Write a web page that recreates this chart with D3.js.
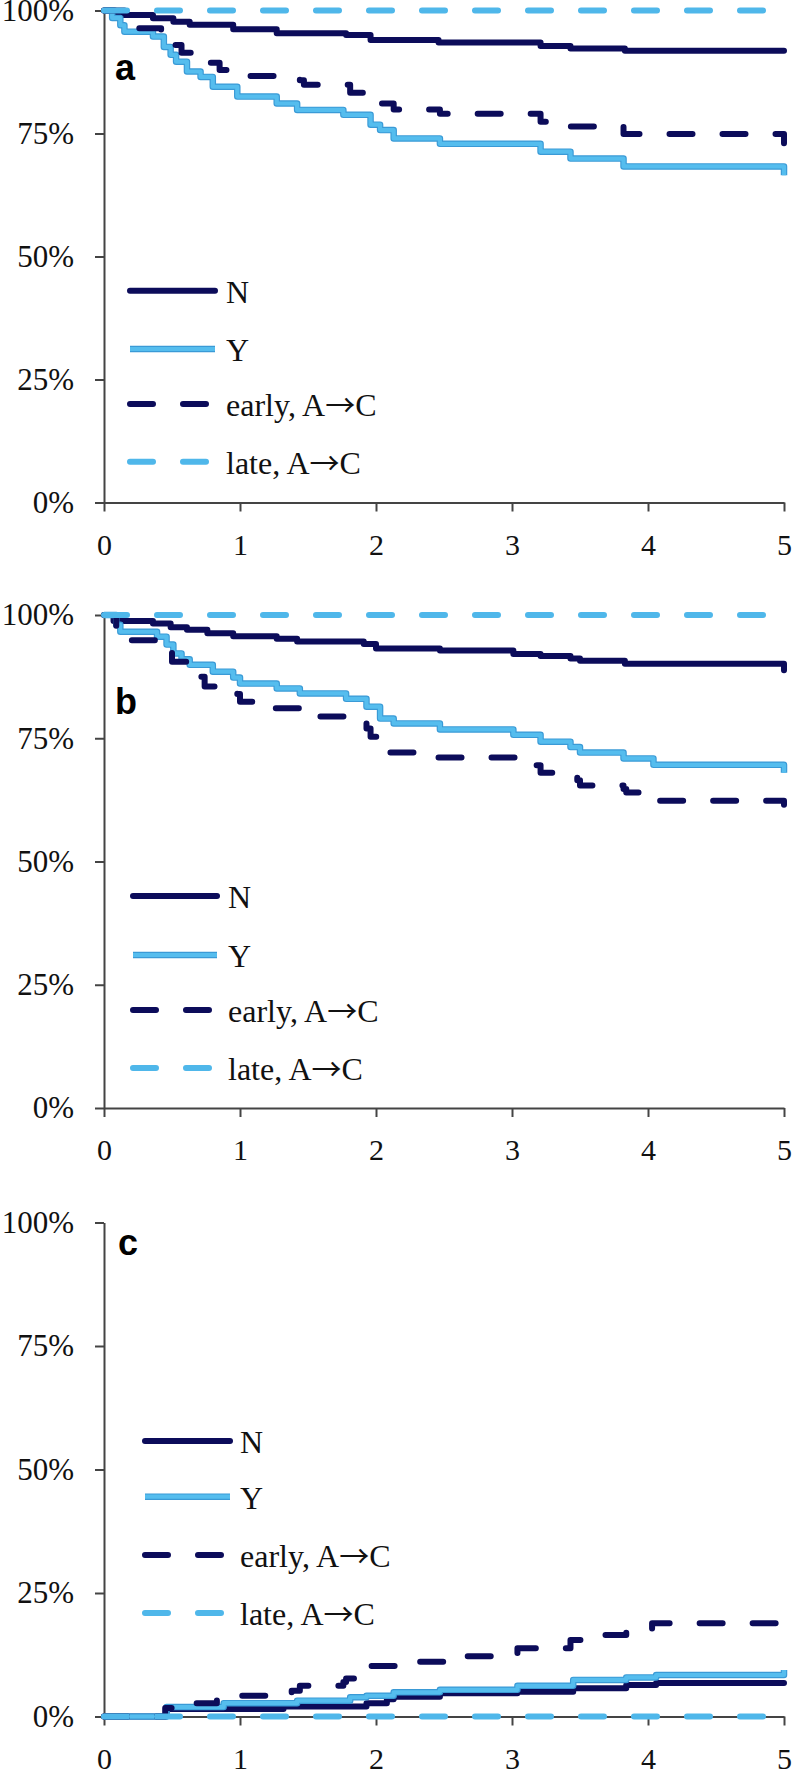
<!DOCTYPE html>
<html><head><meta charset="utf-8">
<script src="https://cdn.jsdelivr.net/npm/d3@7"></script>
<style>body{margin:0;background:#fff}</style>
</head><body>
<svg id="chart" width="795" height="1772"></svg>
<script>
// ---------- data ----------
const xTicks = [0, 1, 2, 3, 4, 5];
const xTickLabels = ["0", "1", "2", "3", "4", "5"];
const yTicks = [0, 25, 50, 75, 100];
const yTickLabels = ["0%", "25%", "50%", "75%", "100%"];
const seriesNames = ["N", "Y", "early, A\u2192C", "late, A\u2192C"];
const panelLabels = ["a", "b", "c"];

// panel a
const aN = [[0,100],[0.08,99.1],[0.36,98.4],[0.51,97.7],[0.63,97.1],[0.95,96.2],[1.27,95.4],[1.78,95.0],[1.96,94.0],[2.46,93.5],[3.21,92.8],[3.43,92.3],[3.83,91.8],[5,91.8]];
const aY = [[0,100],[0.06,98.5],[0.12,97],[0.15,95.7],[0.36,94.7],[0.44,92.6],[0.49,91.0],[0.53,89.6],[0.61,87.6],[0.71,86.5],[0.80,84.5],[0.98,82.5],[1.27,81.1],[1.42,79.8],[1.76,78.8],[1.96,76.8],[2.03,75.7],[2.13,74.0],[2.47,72.9],[3.21,71.3],[3.43,69.9],[3.82,68.3],[5,68.3],[5,66.5]];
const aEarly = [[0,100],[0.15,96.4],[0.42,95.4],[0.49,93.0],[0.57,91.4],[0.75,89.4],[0.85,87.9],[0.95,86.7],[1.44,85.8],[1.47,84.9],[1.81,83.3],[1.98,81.1],[2.13,79.9],[2.47,79.0],[3.21,77.4],[3.34,76.4],[3.82,74.9],[5,74.9],[5,73.0]];
const aLate = [[0,100],[5,100]];

// panel b
const bN = [[0,100],[0.07,98.8],[0.36,98.3],[0.49,97.5],[0.61,97.0],[0.76,96.3],[0.95,95.7],[1.27,95.2],[1.42,94.6],[1.91,94.1],[2.0,93.2],[2.47,92.8],[3.01,92.1],[3.21,91.7],[3.43,91.2],[3.5,90.7],[3.83,90.1],[5,90.1],[5,88.8]];
const bY = [[0,100],[0.09,98],[0.12,96.6],[0.39,95.6],[0.46,94.0],[0.51,92.2],[0.57,91.0],[0.63,89.9],[0.80,88.5],[0.95,87.3],[1.0,86.1],[1.27,85.1],[1.44,84.1],[1.78,83.0],[1.93,81.4],[2.03,79.0],[2.13,78.0],[2.47,76.8],[3.01,75.7],[3.21,74.3],[3.43,73.2],[3.5,72.1],[3.82,70.9],[4.04,69.6],[5,69.6],[5,68.0]];
const bEarly = [[0,100],[0.09,97.5],[0.15,94.9],[0.46,93.0],[0.50,90.5],[0.69,87.5],[0.74,85.5],[0.98,84.0],[1.0,82.4],[1.2,81.1],[1.5,79.4],[1.93,77.0],[1.96,75.3],[2.05,72.1],[2.37,71.1],[3.18,69.5],[3.21,68.0],[3.48,66.5],[3.5,65.4],[3.82,64.7],[3.84,64.0],[4.03,62.3],[5,62.3],[5,61.5]];
const bLate = [[0,100],[5,100]];

// panel c
const cN = [[0,0],[0.46,1.5],[1.32,2.0],[1.93,2.7],[2.08,3.5],[2.13,4.0],[2.47,4.7],[3.04,5.0],[3.45,5.7],[3.84,6.4],[4.06,6.8],[5,6.8]];
const cY = [[0,0],[0.46,1.9],[0.88,2.7],[1.42,3.2],[1.81,3.9],[1.93,4.2],[2.13,4.9],[2.47,5.4],[3.04,6.2],[3.45,7.4],[3.84,7.9],[4.06,8.4],[5,8.4],[5,9.4]];
const cEarly = [[0,0],[0.45,1.7],[0.62,2.7],[0.83,3.3],[0.93,4.2],[1.38,5.2],[1.44,6.2],[1.76,7.0],[1.78,7.7],[1.9,8.9],[1.96,10.2],[2.22,11.1],[2.56,12.2],[3.04,13.8],[3.43,15.5],[3.6,16.5],[3.84,17.5],[4.03,18.9],[5,18.9]];
const cLate = [[0,0],[5,0]];

// ---------- layout ----------
const NAVY = "#0c0c5a";
const LIGHT = "#55bdee";
const LIGHT_EDGE = "#3a9ad6";
const SERIF = "'Liberation Serif','Times New Roman',serif";

const panels = [
  {data:[aN,aY,aEarly,aLate], top:10.5, bottom:502.5, leg:{x1:127,x2:218,ys:[290.7,349,404,461.7],tx:226}, lab:{x:115,y:80}},
  {data:[bN,bY,bEarly,bLate], top:615, bottom:1108, leg:{x1:130,x2:220,ys:[896,955,1010,1068],tx:228}, lab:{x:115,y:714}},
  {data:[cN,cY,cEarly,cLate], top:1222.5, bottom:1716.5, leg:{x1:142,x2:233,ys:[1441,1496.7,1555,1613],tx:240}, lab:{x:118,y:1255}}
];

const svg = d3.select("#chart");
svg.append("rect").attr("width",795).attr("height",1772).attr("fill","#fff");
const x = d3.scaleLinear().domain([0,5]).range([104,784]);

function drawSeries(g, path, k){
  if (k === 0) {
    g.append("path").attr("d", path).attr("fill","none").attr("stroke",NAVY).attr("stroke-width",6).attr("stroke-linejoin","round").attr("stroke-linecap","round");
  } else if (k === 1) {
    g.append("path").attr("d", path).attr("fill","none").attr("stroke",LIGHT_EDGE).attr("stroke-width",6.5).attr("stroke-linejoin","round");
    g.append("path").attr("d", path).attr("fill","none").attr("stroke",LIGHT).attr("stroke-width",4.2).attr("stroke-linejoin","round");
  } else if (k === 2) {
    g.append("path").attr("d", path).attr("fill","none").attr("stroke",NAVY).attr("stroke-width",6).attr("stroke-linejoin","round").attr("stroke-linecap","round").attr("stroke-dasharray","23 30");
  } else {
    g.append("path").attr("d", path).attr("fill","none").attr("stroke","#4fb7ea").attr("stroke-width",6).attr("stroke-linejoin","round").attr("stroke-linecap","round").attr("stroke-dasharray","23 30");
  }
}

panels.forEach((p, pi) => {
  const y = d3.scaleLinear().domain([0,100]).range([p.bottom, p.top]);
  const g = svg.append("g");

  const ya = g.append("g").attr("transform",`translate(${x(0)},0)`)
    .call(d3.axisLeft(y).tickValues(yTicks).tickFormat(d => yTickLabels[yTicks.indexOf(d)]).tickSize(9).tickSizeOuter(0).tickPadding(21));
  const xa = g.append("g").attr("transform",`translate(0,${y(0)})`)
    .call(d3.axisBottom(x).tickValues(xTicks).tickFormat(d => xTickLabels[xTicks.indexOf(d)]).tickSize(9).tickSizeOuter(0).tickPadding(22));
  [ya, xa].forEach(a => {
    a.select(".domain").attr("stroke","#444").attr("stroke-width",2);
    a.selectAll(".tick line").attr("stroke","#444").attr("stroke-width",2);
    a.selectAll("text").attr("fill","#111").attr("font-family",SERIF);
  });
  ya.selectAll("text").attr("font-size",31);
  xa.selectAll("text").attr("font-size",30);

  const line = d3.line().x(d => x(d[0])).y(d => y(d[1])).curve(d3.curveStepAfter);
  p.data.forEach((s, k) => drawSeries(g, line(s), k));

  // panel label
  g.append("text").attr("x",p.lab.x).attr("y",p.lab.y).text(panelLabels[pi])
    .attr("font-family","'Liberation Sans',Arial,sans-serif").attr("font-weight","bold").attr("font-size",36).attr("fill","#000");

  // legend
  seriesNames.forEach((name, k) => {
    const ly = p.leg.ys[k];
    const lp = `M${p.leg.x1+3},${ly}H${p.leg.x2-3}`;
    drawSeries(g, lp, k);
    const t = g.append("text").attr("x",p.leg.tx).attr("y",ly+12)
      .attr("font-family",SERIF).attr("font-size",32).attr("fill","#111");
    name.split(/(\u2192)/).forEach(part => {
      if (!part) return;
      const ts = t.append("tspan").text(part);
      if (part === "\u2192") ts.attr("font-family","'Noto Sans CJK SC','DejaVu Sans',sans-serif").attr("font-size",30);
    });
  });
});
</script>
</body></html>
